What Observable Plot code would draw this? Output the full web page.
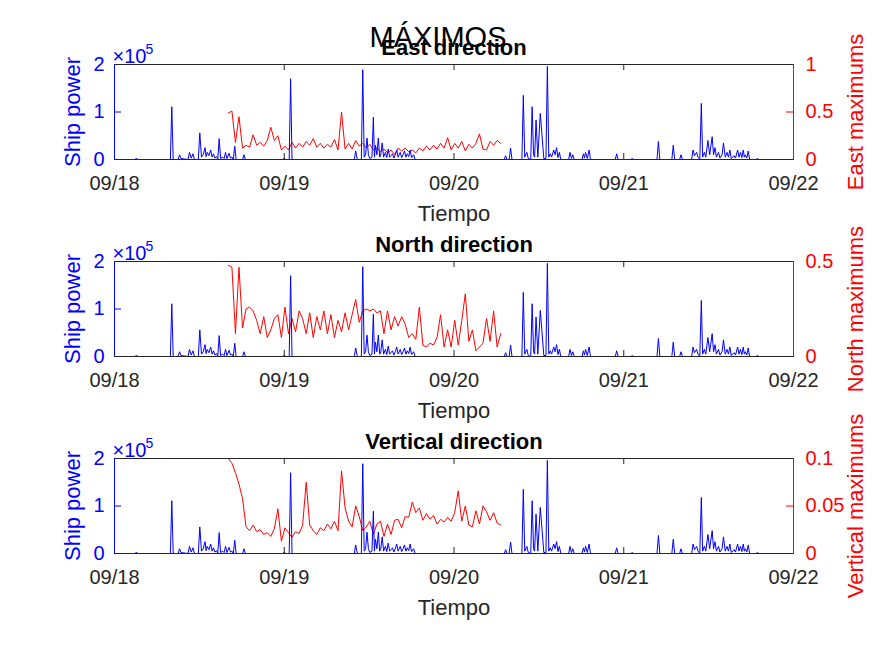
<!DOCTYPE html>
<html><head><meta charset="utf-8">
<script src="https://cdn.jsdelivr.net/npm/d3@7"></script>
<script src="https://cdn.jsdelivr.net/npm/@observablehq/plot@0.6"></script>
<style>
body{margin:0;background:#fff;}
#root{position:relative;width:875px;height:656px;overflow:hidden;background:#fff;font-family:"Liberation Sans",Arial,sans-serif;}
#root svg{position:absolute;left:0;}
</style></head>
<body><div id="root"></div>
<script>
// ---------- DATA ----------
const mainTitle = "MÁXIMOS";
const xLabel = "Tiempo";
const dayLabels = ["09/18", "09/19", "09/20", "09/21", "09/22"];
const dayHours = [0, 24, 48, 72, 96];
const leftLabel = "Ship power";
const leftTicks = [0, 1, 2];          // ×10^5
const leftTickLabels = ["0", "1", "2"];

// Ship power (×10^5), hours after 09/18 00:00
const shipHours = [0,2.9,3.1,3.3,7.9,8.1,8.3,9.0,9.2,9.4,10.4,10.6,10.85,11.1,11.3,11.85,12.06,12.3,12.55,12.8,12.95,13.1,13.35,13.6,13.8,14.0,14.2,14.45,14.6,14.8,15.0,15.3,15.5,15.7,15.9,16.2,16.4,16.6,16.8,17.0,17.2,18.1,18.3,18.5,23.8,24.0,24.2,24.7,24.9,25.1,33.9,34.1,34.3,34.5,34.9,35.1,35.3,35.5,35.7,35.9,36.1,36.4,36.6,36.75,36.9,37.1,37.3,37.5,37.65,37.85,38.05,38.3,38.5,38.7,38.9,39.1,39.3,39.5,39.7,39.9,40.1,40.4,40.6,40.8,41.0,41.2,41.4,41.6,41.8,42.0,42.3,42.5,55.1,55.3,55.5,55.8,56.0,56.2,57.6,57.8,58.0,58.3,58.5,58.85,59.05,59.25,59.4,59.6,59.85,60.2,60.45,60.7,61.0,61.2,61.4,61.6,61.8,62.1,62.3,62.5,62.7,62.9,63.1,64.2,64.4,64.6,64.8,65.0,66.1,66.3,66.45,66.6,66.85,67.1,67.3,70.8,71.0,71.2,73.0,73.2,73.4,76.7,76.9,77.1,78.8,79.0,79.2,79.9,80.1,80.3,81.6,81.8,82.0,82.3,82.5,82.75,82.97,83.15,83.4,83.6,83.9,84.15,84.5,84.7,84.9,85.1,85.4,85.6,85.9,86.1,86.35,86.6,86.8,87.0,87.2,87.6,87.8,88.1,88.3,88.5,88.7,88.9,89.05,89.2,89.4,89.6,89.8,90.7,90.9,91.1,96];
const shipPower = [0,0,0.03,0,0,1.11,0,0,0.1,0.02,0,0.15,0.03,0.12,0,0,0.56,0.05,0.1,0.25,0.06,0.15,0.08,0.2,0.05,0.12,0.03,0.06,0,0.44,0.02,0.05,0.02,0.15,0.02,0.13,0.03,0.05,0,0.28,0,0,0.1,0,0,0.03,0,0,1.70,0,0,0.18,0.02,0,0,1.89,0.05,0.1,0.45,0.1,0.02,0.05,0.89,0.05,0.3,0.1,0.45,0.05,0.1,0.35,0.05,0.15,0.04,0.22,0.05,0.08,0.12,0.03,0.1,0.2,0.05,0.15,0.04,0.1,0.18,0.05,0.12,0.06,0.2,0.04,0.1,0,0,0.08,0,0,0.24,0,0,1.35,0.05,0.15,0.02,0,1.11,0.1,0.05,0.83,0.05,0.97,0.5,0.02,0.02,1.96,0.05,0.12,0.05,0.2,0.1,0.25,0.04,0.15,0,0,0.15,0.02,0.1,0,0,0.12,0.03,0.15,0.02,0.2,0,0,0.12,0,0,0.02,0,0,0.38,0,0,0.3,0,0,0.1,0,0,0.2,0.08,0.15,0.05,0,1.18,0.05,0.15,0.05,0.4,0.1,0.48,0.1,0.25,0.05,0.15,0.03,0.1,0.35,0.05,0.15,0.05,0.2,0.02,0.08,0.03,0.2,0.05,0.15,0.04,0.2,0.05,0.1,0.03,0.18,0,0,0.02,0,0];

// Maximums: sampled every 0.5 h starting at 16.1 h
const maxStartHour = 16.1;
const maxStepHours = 0.5;
const eastMax = [0.49,0.51,0.18,0.45,0.12,0.15,0.13,0.26,0.15,0.18,
 0.14,0.2,0.34,0.2,0.25,0.1,0.14,0.1,0.18,0.12,
 0.17,0.13,0.19,0.15,0.22,0.13,0.17,0.12,0.16,0.13,
 0.21,0.1,0.50,0.11,0.17,0.11,0.2,0.14,0.17,0.12,
 0.16,0.1,0.12,0.08,0.11,0.07,0.1,0.05,0.12,0.09,
 0.12,0.08,0.1,0.07,0.12,0.09,0.14,0.1,0.15,0.11,
 0.17,0.12,0.23,0.1,0.17,0.12,0.19,0.09,0.16,0.12,
 0.17,0.27,0.11,0.1,0.19,0.15,0.2,0.17];
const northMax = [0.48,0.47,0.12,0.47,0.15,0.25,0.26,0.24,0.19,0.12,
 0.21,0.1,0.14,0.2,0.22,0.1,0.26,0.12,0.2,0.13,
 0.24,0.2,0.12,0.23,0.1,0.21,0.14,0.24,0.12,0.22,
 0.1,0.19,0.13,0.23,0.14,0.22,0.3,0.18,0.24,0.25,
 0.24,0.25,0.23,0.24,0.12,0.24,0.14,0.21,0.16,0.21,
 0.17,0.1,0.12,0.09,0.26,0.06,0.05,0.07,0.06,0.1,
 0.22,0.05,0.14,0.05,0.19,0.06,0.19,0.33,0.08,0.14,
 0.03,0.05,0.07,0.2,0.08,0.24,0.05,0.12];
const verticalMax = [0.1,0.095,0.085,0.073,0.058,0.028,0.024,0.03,0.023,0.025,
 0.02,0.022,0.018,0.026,0.047,0.013,0.027,0.022,0.017,0.023,
 0.021,0.03,0.075,0.03,0.024,0.02,0.027,0.024,0.031,0.026,
 0.034,0.024,0.087,0.048,0.034,0.028,0.05,0.039,0.024,0.028,
 0.034,0.02,0.031,0.034,0.018,0.031,0.02,0.035,0.036,0.027,
 0.039,0.038,0.054,0.043,0.048,0.035,0.042,0.036,0.04,0.031,
 0.036,0.033,0.038,0.034,0.043,0.066,0.034,0.05,0.03,0.028,
 0.045,0.031,0.05,0.044,0.035,0.043,0.032,0.03];

const panelTitles = ["East direction", "North direction", "Vertical direction"];
const rightLabels = ["East maximums", "North maximums", "Vertical maximums"];
const rightTicks = [[0, 0.5, 1], [0, 0.5], [0, 0.05, 0.1]];
const rightTickLabels = [["0", "0.5", "1"], ["0", "0.5"], ["0", "0.05", "0.1"]];
const rightDomains = [[0, 1], [0, 0.5], [0, 0.1]];
const maxSeries = [eastMax, northMax, verticalMax];

// ---------- DRAW ----------
const BLUE = "#0000ff", RED = "#ff0000", AX = "#262626";
const W = 875, STEP = 197, SVG_H = 230, MT = 64, PH = 95, ML = 114, MR = 82;
const MB = SVG_H - MT - PH;
const PW = W - ML - MR;
const FONT = "'Liberation Sans', Arial, sans-serif";
const TICK_FS = 20, LABEL_FS = 22;
const root = document.getElementById("root");
const shipData = shipHours.map((h, i) => ({h, v: shipPower[i]}));
const base = {
  width: W, height: SVG_H, marginLeft: ML, marginRight: MR, marginTop: MT, marginBottom: MB,
  style: {background: "transparent", overflow: "visible", fontFamily: FONT, fontSize: TICK_FS + "px"}
};

for (let k = 0; k < 3; k++) {
  const redData = maxSeries[k].map((v, i) => ({h: maxStartHour + i * maxStepHours, v}));
  const inner = rightTicks[k].filter(t => t > rightDomains[k][0] && t < rightDomains[k][1]);
  const red = Plot.plot({
    ...base,
    x: {domain: [0, 96], axis: null},
    y: {domain: rightDomains[k]},
    marks: [
      Plot.line(redData, {x: "h", y: "v", stroke: RED, strokeWidth: 1, clip: true}),
      Plot.ruleX([96], {stroke: RED}),
      Plot.ruleY(inner, {stroke: RED, insetLeft: PW - 7}),
      Plot.axisY({anchor: "right", ticks: rightTicks[k], tickFormat: (d, i) => rightTickLabels[k][i],
        tickSize: 0, tickPadding: 12, color: RED, label: null}),
      Plot.text([rightLabels[k]], {text: d => d, frameAnchor: "right", textAnchor: "middle", lineAnchor: "middle",
        dx: 62, rotate: -90, fill: RED, fontSize: LABEL_FS})
    ]
  });
  const marks = [
    Plot.line(shipData, {x: "h", y: "v", stroke: BLUE, strokeWidth: 1}),
    Plot.ruleY([0], {stroke: AX}),
    Plot.ruleY([2], {stroke: AX}),
    Plot.ruleX([0], {stroke: BLUE}),
    Plot.ruleX(dayHours.slice(1, -1), {stroke: AX, insetTop: PH - 6}),
    Plot.ruleX(dayHours.slice(1, -1), {stroke: AX, insetBottom: PH - 6}),
    Plot.ruleY([1], {stroke: BLUE, insetRight: PW - 7}),
    Plot.axisX({ticks: dayHours, tickFormat: (d, i) => dayLabels[i], tickSize: 0, tickPadding: 16,
      color: AX, label: null}),
    Plot.axisY({anchor: "left", ticks: leftTicks, tickFormat: (d, i) => leftTickLabels[i], tickSize: 0,
      tickPadding: 10, color: BLUE, label: null}),
    Plot.text([leftLabel], {text: d => d, frameAnchor: "left", textAnchor: "middle", lineAnchor: "middle",
      dx: -42, rotate: -90, fill: BLUE, fontSize: LABEL_FS}),
    Plot.text(["×10"], {text: d => d, frameAnchor: "top-left", textAnchor: "start", lineAnchor: "bottom",
      dx: -2, dy: -2, fill: BLUE, fontSize: TICK_FS}),
    Plot.text(["5"], {text: d => d, frameAnchor: "top-left", textAnchor: "start", lineAnchor: "bottom",
      dx: 31, dy: -11, fill: BLUE, fontSize: 14}),
    Plot.text([xLabel], {text: d => d, frameAnchor: "bottom", lineAnchor: "middle", dy: 54, fill: AX, fontSize: LABEL_FS}),
    Plot.text([panelTitles[k]], {text: d => d, frameAnchor: "top", lineAnchor: "middle", dy: -17,
      fill: "#000", fontWeight: "bold", fontSize: LABEL_FS})
  ];
  if (k === 0) marks.push(Plot.text([mainTitle], {text: d => d, frameAnchor: "top", lineAnchor: "middle",
    dx: -16, dy: -27, fill: "#000", fontSize: 29}));
  const blue = Plot.plot({
    ...base,
    x: {domain: [0, 96]},
    y: {domain: [0, 2]},
    marks
  });
  red.style.top = (STEP * k) + "px";
  blue.style.top = (STEP * k) + "px";
  root.appendChild(red);
  root.appendChild(blue);
}
</script>
</body></html>
